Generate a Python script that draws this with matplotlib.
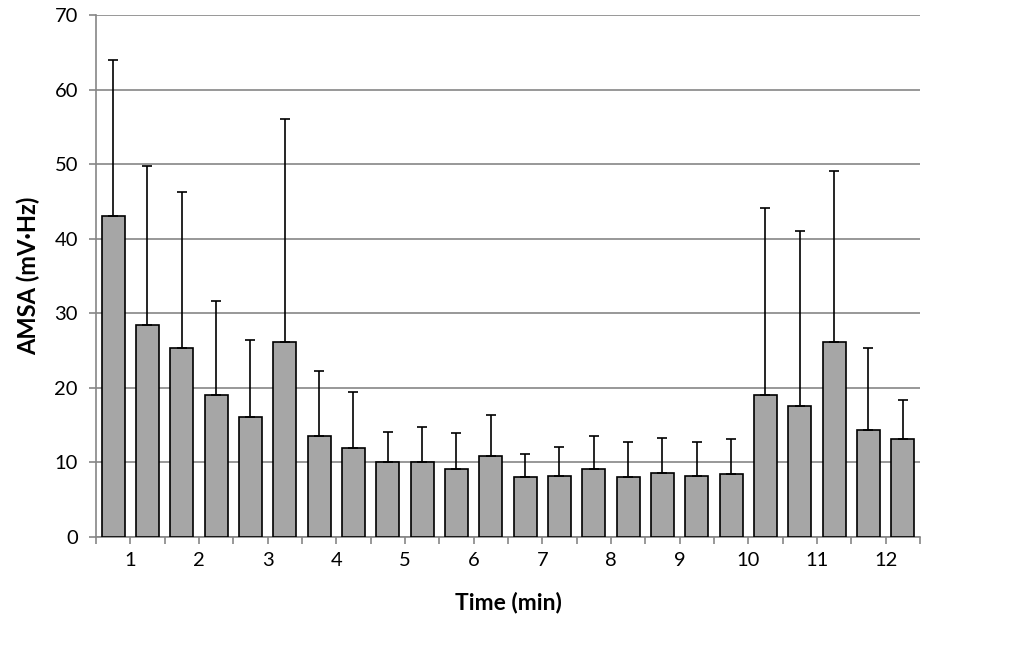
import numpy as np
import matplotlib.pyplot as plt

# Data (two bars per minute)
minutes = [str(m) for m in range(1, 13)]
amsa_mean = [43.1, 28.4, 25.3, 19.1, 16.1, 26.2, 13.6, 11.9, 10.0, 10.1, 9.1, 10.8,
             8.0, 8.2, 9.1, 8.1, 8.6, 8.2, 8.5, 19.1, 17.5, 26.2, 14.4, 13.1]
amsa_upper = [64.0, 49.7, 46.2, 31.7, 26.4, 56.0, 22.2, 19.5, 14.1, 14.7, 13.9, 16.4,
              11.1, 12.1, 13.5, 12.7, 13.3, 12.8, 13.1, 44.1, 41.0, 49.1, 25.4, 18.4]

plt.rcParams['font.family'] = ['Lato', 'DejaVu Sans']

fig = plt.figure(figsize=(10.18, 6.65), dpi=100)
ax = fig.add_axes([0.0943, 0.1925, 0.8094, 0.785])

x = np.arange(len(amsa_mean))
mean = np.array(amsa_mean)
err = np.array(amsa_upper) - mean

ax.bar(x, mean, width=0.67, color='#a6a6a6', edgecolor='black', linewidth=1.2, zorder=3)
ax.errorbar(x, mean, yerr=[np.zeros_like(err), err], fmt='none', ecolor='black',
            elinewidth=1.2, capsize=3.5, capthick=1.2, zorder=4)

ax.set_xlim(-0.5, len(x) - 0.5)
ax.set_ylim(0, 70)
ax.set_yticks(np.arange(0, 71, 10))
ax.yaxis.grid(True, color='#868686', linewidth=1.2, zorder=0)

ticks = np.arange(-0.5, len(x), 1)
labels = [''] * len(ticks)
for i, m in enumerate(minutes):
    labels[2 * i + 1] = m
ax.set_xticks(ticks)
ax.set_xticklabels(labels)

for side in ['top', 'right']:
    ax.spines[side].set_visible(False)
for side in ['left', 'bottom']:
    ax.spines[side].set_color('#868686')
    ax.spines[side].set_linewidth(1.2)
ax.tick_params(axis='both', colors='#868686', labelcolor='black', labelsize=14.5, length=5, width=1.2)
ax.tick_params(axis='x', pad=6)
ax.tick_params(axis='y', pad=8)

ax.set_ylabel('AMSA (mV·Hz)', fontsize=17, fontweight='bold', labelpad=10)
ax.set_xlabel('Time (min)', fontsize=16.5, fontweight='bold', labelpad=16)

fig.savefig('out.png', dpi=100)
